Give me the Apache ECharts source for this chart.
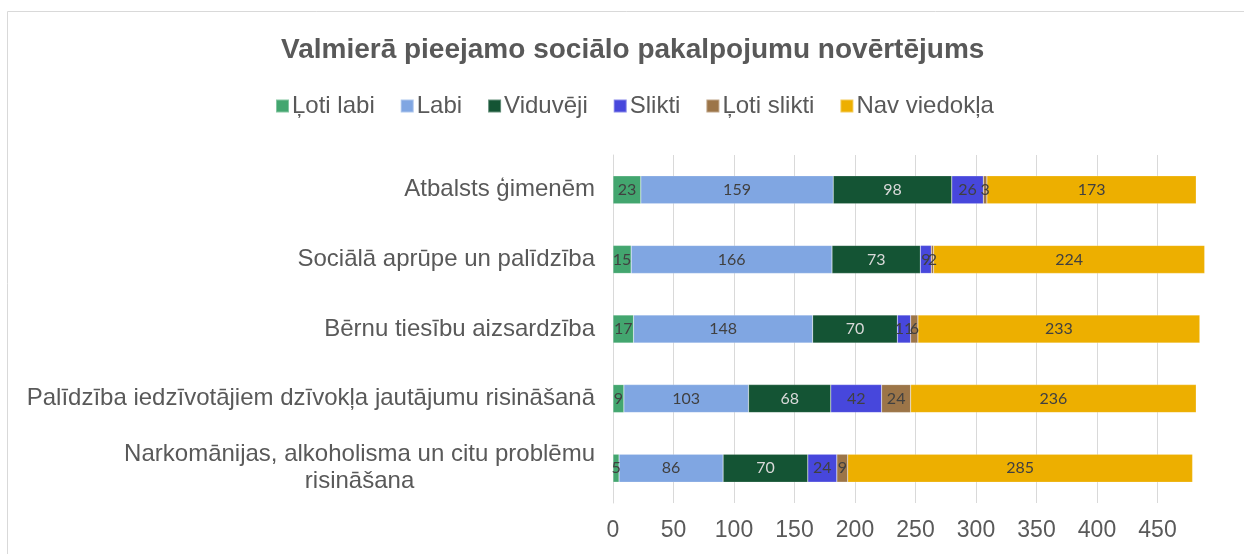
<!DOCTYPE html>
<html>
<head>
<meta charset="utf-8">
<script src="https://cdn.jsdelivr.net/npm/echarts@6/dist/echarts.min.js"></script>
<style>
  html, body { margin: 0; padding: 0; background: #fff; }
  #chart { width: 1244px; height: 554px; }
</style>
</head>
<body>
<div id="chart"></div>
<script>
  // jautājumi (no augšas uz leju)
  var categories = [
    'Atbalsts ģimenēm',
    'Sociālā aprūpe un palīdzība',
    'Bērnu tiesību aizsardzība',
    'Palīdzība iedzīvotājiem dzīvokļa jautājumu risināšanā',
    'Narkomānijas, alkoholisma un citu problēmu\nrisināšana'
  ]
  var lotiLabi    = [23, 15, 17, 9, 5]
  var labi        = [159, 166, 148, 103, 86]
  var viduveji    = [98, 73, 70, 68, 70]
  var slikti      = [26, 9, 11, 42, 24]
  var lotiSlikti  = [3, 2, 6, 24, 9]
  var navViedokla = [173, 224, 233, 236, 285]
  var xTicks = [0, 50, 100, 150, 200, 250, 300, 350, 400, 450]

  var list = [
    {label: 'Ļoti labi', color: '#43A66F', text: '#404040', data: lotiLabi},
    {label: 'Labi', color: '#80A6E2', text: '#404040', data: labi},
    {label: 'Viduvēji', color: '#145434', text: '#D9D9D9', data: viduveji},
    {label: 'Slikti', color: '#4747DC', text: '#404040', data: slikti},
    {label: 'Ļoti slikti', color: '#9C7548', text: '#404040', data: lotiSlikti},
    {label: 'Nav viedokļa', color: '#EDAF00', text: '#404040', data: navViedokla}
  ]

  var seriesList = []
  list.forEach(function (item) {
    seriesList.push({
      name: item.label,
      type: 'bar',
      stack: 'kopā',
      barWidth: 28,
      itemStyle: { color: item.color, borderColor: 'rgba(255,255,255,0.35)', borderWidth: 0.5 },
      label: {
        show: true,
        position: 'inside',
        color: item.text,
        fontFamily: 'Lato',
        fontSize: 16
      },
      emphasis: { disabled: true },
      data: item.data
    })
  })

  // režģa līnijas līdz 450, pie 500 nav
  var gridColors = xTicks.map(function () { return '#D9D9D9' })
  gridColors.push('rgba(0,0,0,0)')

  var myChart = echarts.init(document.getElementById('chart'))
  myChart.setOption({
    animation: false,
    textStyle: { fontFamily: 'Liberation Sans, Arial, sans-serif' },
    graphic: [{
      type: 'rect',
      shape: { x: 7.5, y: 11.5, width: 1260, height: 600 },
      style: { fill: 'none', stroke: '#D9D9D9', lineWidth: 1 },
      silent: true
    }],
    title: {
      text: 'Valmierā pieejamo sociālo pakalpojumu novērtējums',
      left: 276,
      top: 31,
      textStyle: { fontSize: 28, fontWeight: 'bold', color: '#595959', fontFamily: 'Liberation Sans' }
    },
    legend: {
      top: 89,
      left: 270,
      icon: 'rect',
      itemWidth: 13,
      itemHeight: 13,
      itemGap: 25,
      textStyle: { fontSize: 24, color: '#595959', padding: [0, 0, 0, -2] },
      data: list.map(function (item) { return item.label })
    },
    grid: {
      left: 613,
      right: 26,
      top: 155,
      bottom: 51
    },
    xAxis: {
      type: 'value',
      min: 0,
      max: 500,
      interval: 50,
      axisLine: { show: false },
      axisTick: { show: false },
      splitLine: { lineStyle: { color: gridColors, width: 1 } },
      axisLabel: {
        fontSize: 23,
        color: '#595959',
        margin: 16,
        formatter: function (v) { return xTicks.indexOf(v) >= 0 ? String(v) : '' }
      }
    },
    yAxis: {
      type: 'category',
      inverse: true,
      data: categories,
      axisLine: { show: true, lineStyle: { color: '#D9D9D9' } },
      axisTick: { show: false },
      axisLabel: {
        fontSize: 24,
        color: '#595959',
        margin: 18,
        lineHeight: 27,
        formatter: function (v) {
          return v.split('\n').map(function (s) { return '{c|' + s + '}' }).join('\n')
        },
        rich: {
          c: { fontSize: 24, color: '#595959', align: 'center', lineHeight: 27 }
        }
      }
    },
    series: seriesList
  })
</script>
</body>
</html>
